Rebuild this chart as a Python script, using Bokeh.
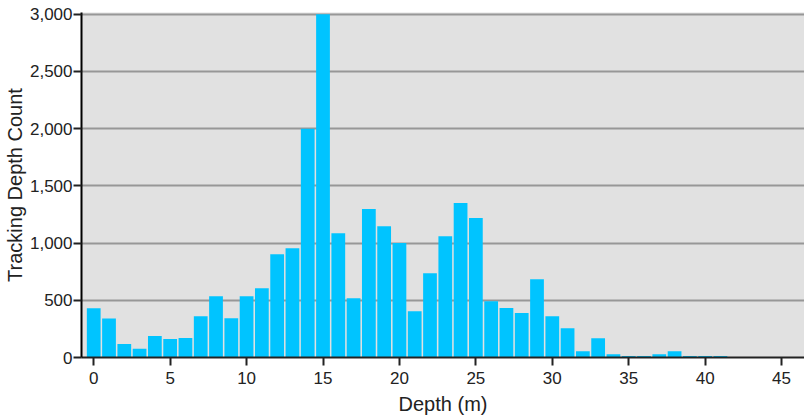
from bokeh.plotting import figure
from bokeh.models import ColumnDataSource, NumeralTickFormatter, FixedTicker, Range1d
from bokeh.embed import file_html
from bokeh.resources import INLINE

# Depth bins (m) and number of tracking records in each
depth = list(range(0, 47))
count = [430, 340, 118, 76, 188, 162, 170, 360, 536, 344,
         536, 605, 903, 955, 2000, 3000, 1086, 518, 1298, 1148,
         1000, 405, 737, 1060, 1350, 1220, 492, 432, 388, 684,
         360, 256, 55, 168, 29, 14, 14, 29, 55, 14,
         14, 14, 3, 3, 2, 2, 2]

y_ticks = [0, 500, 1000, 1500, 2000, 2500, 3000]
x_ticks = [0, 5, 10, 15, 20, 25, 30, 35, 40, 45]

source = ColumnDataSource(data=dict(depth=depth, count=count))

p = figure(width=804, height=417, output_backend="svg", toolbar_location=None,
           x_range=Range1d(-0.8, 46.5), y_range=Range1d(0, 3015),
           min_border_left=0, min_border_right=0, min_border_top=12,
           min_border_bottom=60)

p.background_fill_color = "#e1e1e1"
p.border_fill_color = "white"
p.outline_line_color = None

p.vbar(x="depth", top="count", width=0.9, bottom=0, source=source,
       fill_color="#00c4ff", line_color=None)

font = "Liberation Sans"

p.xgrid.grid_line_color = None
p.ygrid.grid_line_color = "#979797"
p.ygrid.grid_line_width = 2
p.ygrid.ticker = FixedTicker(ticks=y_ticks)

p.yaxis.ticker = FixedTicker(ticks=y_ticks)
p.yaxis.formatter = NumeralTickFormatter(format="0,0")
p.yaxis.axis_label = "Tracking Depth Count"
p.yaxis.axis_line_color = "black"
p.yaxis.axis_line_width = 2

p.xaxis.ticker = FixedTicker(ticks=x_ticks)
p.xaxis.axis_label = "Depth (m)"
p.xaxis.axis_line_color = "#222222"
p.xaxis.axis_line_width = 2

for ax in (p.xaxis, p.yaxis):
    ax.minor_tick_line_color = None
    ax.major_tick_in = 0
    ax.major_tick_out = 8
    ax.major_tick_line_color = "#222222"
    ax.major_tick_line_width = 2
    ax.major_label_text_font = font
    ax.major_label_text_font_size = "17px"
    ax.major_label_text_color = "#222222"
    ax.axis_label_text_font = font
    ax.axis_label_text_font_style = "normal"
    ax.axis_label_text_color = "#222222"

p.xaxis.axis_label_text_font_size = "20px"
p.yaxis.axis_label_text_font_size = "20px"

p.xaxis.major_label_standoff = 6
p.yaxis.major_label_standoff = 1
p.xaxis.axis_label_standoff = 6
p.yaxis.axis_label_standoff = 1

open("out.html", "w").write(file_html(p, INLINE))
